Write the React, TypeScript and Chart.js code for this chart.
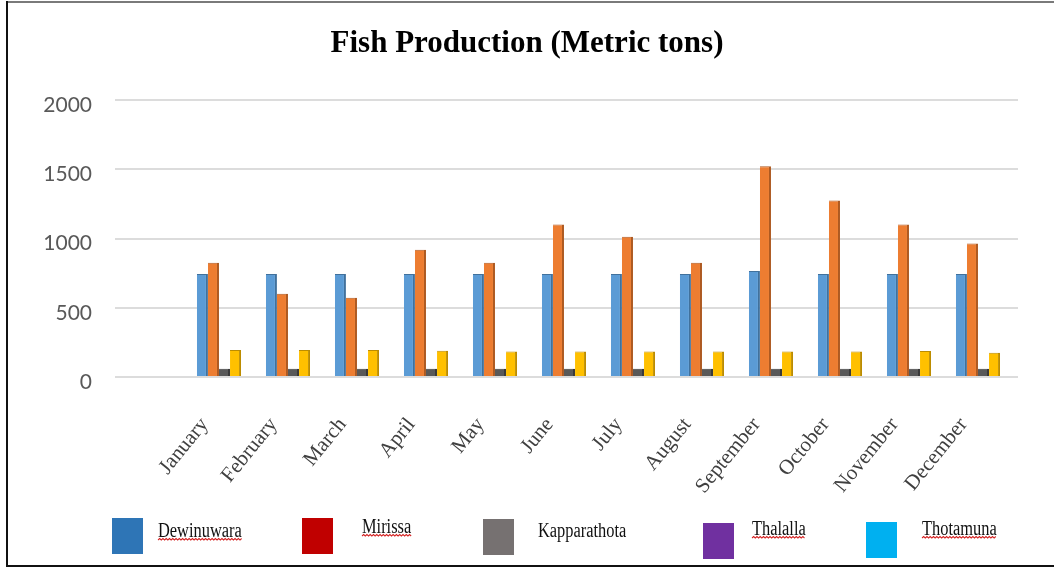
import React, { useEffect, useRef } from "react";
import { Chart, registerables } from "chart.js";

Chart.register(...registerables);

const chartTitle = "Fish Production (Metric tons)";
const months = [
  "January", "February", "March", "April", "May", "June",
  "July", "August", "September", "October", "November", "December",
];
const seriesNames = ["Dewinuwara", "Mirissa", "Kapparathota", "Thalalla", "Thotamuna"];

const dewinuwara = [745, 745, 745, 745, 745, 745, 745, 745, 765, 745, 745, 745];
const mirissa = [826, 601, 572, 920, 826, 1101, 1014, 826, 1522, 1275, 1101, 964];
const kapparathota = [60, 60, 60, 60, 60, 60, 60, 60, 60, 60, 60, 60];
const thalalla = [195, 195, 195, 190, 185, 185, 185, 185, 185, 185, 188, 175];
const thotamuna = [8, 8, 8, 8, 8, 8, 8, 8, 8, 8, 8, 8];

const barColors = ["#5B9BD5", "#ED7D31", "#595959", "#FFC000", "#3E5C8E"];
const barEdgeColors = ["#41719C", "#AE5A21", "#3A3A3A", "#BC8C00", "#2A3F63"];
const legendColors = ["#2E75B6", "#C00000", "#767171", "#7030A0", "#00B0F0"];
const spellUnderlined = [true, true, false, true, true];

const yMin = 0;
const yMax = 2000;
const yStep = 500;

const decorPlugin = {
  id: "decor",
  afterDraw(chart: any) {
    const ctx = chart.ctx as CanvasRenderingContext2D;
    ctx.save();
    // frame
    ctx.lineWidth = 2;
    ctx.strokeStyle = "#7a7a7a";
    ctx.beginPath();
    ctx.moveTo(6, 2);
    ctx.lineTo(1054, 2);
    ctx.stroke();
    ctx.strokeStyle = "#111";
    ctx.beginPath();
    ctx.moveTo(7, 1);
    ctx.lineTo(7, 567);
    ctx.moveTo(6, 566);
    ctx.lineTo(1054, 566);
    ctx.stroke();

    // custom legend
    const boxX = [112, 302, 483, 703, 866];
    const boxY = [518, 518, 519, 523, 522];
    const textX = [158, 362, 538, 752, 922];
    const textY = [532, 528, 532, 530, 530];
    seriesNames.forEach((name, i) => {
      ctx.fillStyle = legendColors[i];
      ctx.fillRect(boxX[i], boxY[i], 31, 36);
      ctx.save();
      ctx.translate(textX[i], textY[i]);
      ctx.scale(0.82, 1);
      ctx.font = "20px 'Liberation Serif', serif";
      ctx.textBaseline = "middle";
      ctx.textAlign = "left";
      ctx.fillStyle = "#111";
      ctx.fillText(name, 0, 0);
      const w = ctx.measureText(name).width;
      if (spellUnderlined[i]) {
        ctx.strokeStyle = "#d42020";
        ctx.lineWidth = 1.2;
        ctx.beginPath();
        let up = true;
        ctx.moveTo(0, 8);
        for (let x = 2; x <= w; x += 2) {
          ctx.lineTo(x, up ? 6.5 : 8);
          up = !up;
        }
        ctx.stroke();
      }
      ctx.restore();
    });
    ctx.restore();
  },
};

export default function App() {
  const canvasRef = useRef<HTMLCanvasElement | null>(null);

  useEffect(() => {
    document.body.style.margin = "0";
    const canvas = canvasRef.current;
    if (!canvas) return;
    const seriesValues = [dewinuwara, mirissa, kapparathota, thalalla, thotamuna];
    const chart = new Chart(canvas, {
      type: "bar",
      data: {
        labels: months,
        datasets: seriesNames.map((name, i) => ({
          label: name,
          data: seriesValues[i],
          backgroundColor: barColors[i],
          borderColor: barEdgeColors[i],
          borderWidth: { top: 1, right: 2, left: 0, bottom: 0 },
          borderSkipped: false,
          categoryPercentage: 0.8,
          barPercentage: 1.0,
        })),
      },
      options: {
        responsive: false,
        animation: false,
        devicePixelRatio: 1,
        layout: { padding: { left: 0, right: 0, top: 0, bottom: 0 } },
        plugins: {
          legend: { display: false },
          tooltip: { enabled: false },
          title: {
            display: true,
            text: chartTitle,
            color: "#000",
            font: { family: "'Liberation Serif', serif", size: 31, weight: "bold", lineHeight: 1.2 },
            padding: { top: 25, bottom: 38 },
          },
        },
        scales: {
          x: {
            grid: { display: false },
            border: { display: false },
            ticks: {
              autoSkip: false,
              maxRotation: 51,
              minRotation: 51,
              labelOffset: -20,
              padding: 28,
              color: "#404040",
              font: { family: "'Liberation Serif', serif", size: 21 },
            },
            afterFit: (s: any) => {
              s.height = 192;
            },
          },
          y: {
            min: yMin,
            max: yMax,
            border: { display: false },
            grid: {
              color: "#dcdcdc",
              lineWidth: 2,
              drawTicks: true,
              tickLength: 75,
              tickColor: "#dcdcdc",
            },
            ticks: {
              stepSize: yStep,
              padding: 23,
              labelOffset: 5,
              color: "#595959",
              font: { family: "Lato, sans-serif", size: 21 },
              callback: (v: any) => String(v),
            },
            afterFit: (s: any) => {
              s.width = 190;
            },
          },
          yRight: {
            position: "right",
            display: true,
            min: yMin,
            max: yMax,
            grid: { display: false, drawTicks: false },
            border: { display: false },
            ticks: { display: false },
            afterFit: (s: any) => {
              s.width = 36;
            },
          },
        },
      },
      plugins: [decorPlugin],
    });
    return () => chart.destroy();
  }, []);

  return (
    <div style={{ width: 1054, height: 569, background: "#fff" }}>
      <canvas ref={canvasRef} width={1054} height={569} style={{ display: "block" }} />
    </div>
  );
}
